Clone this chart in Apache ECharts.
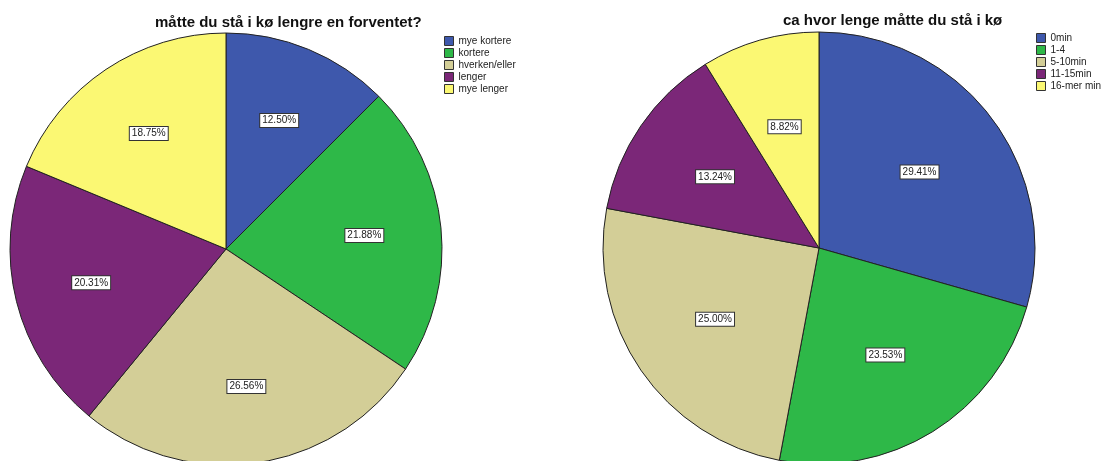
<!DOCTYPE html>
<html>
<head>
<meta charset="utf-8">
<script src="https://cdn.jsdelivr.net/npm/echarts@6/dist/echarts.min.js"></script>
<style>
  html, body { margin: 0; padding: 0; background: #fff; }
  #chart { width: 1107px; height: 461px; }
</style>
</head>
<body>
<div id="chart"></div>
<script>
// venstre diagram: måtte du stå i kø lengre en forventet?
const leftTitle = 'måtte du stå i kø lengre en forventet?'
const leftNames = ['mye kortere', 'kortere', 'hverken/eller', 'lenger', 'mye lenger']
const leftValues = [12.50, 21.88, 26.56, 20.31, 18.75]

// høyre diagram: ca hvor lenge måtte du stå i kø
const rightTitle = 'ca hvor lenge måtte du stå i kø'
const rightNames = ['0min', '1-4', '5-10min', '11-15min', '16-mer min']
const rightValues = [29.41, 23.53, 25.00, 13.24, 8.82]

const colors = ['#3e58ac', '#2eb848', '#d3ce97', '#7b2778', '#fbf873']
const font = 'Liberation Sans, Arial, sans-serif'

const chart = echarts.init(document.getElementById('chart'), null, { renderer: 'canvas' })

function toData(names, values) {
  return names.map((n, i) => ({ name: n, value: values[i], itemStyle: { color: colors[i] } }))
}

// selve kaka, uten etiketter
function pieSeries(names, values, center) {
  return {
    type: 'pie',
    center: center,
    radius: [0, 216],
    startAngle: 90,
    clockwise: true,
    silent: true,
    animation: false,
    label: { show: false },
    labelLine: { show: false },
    itemStyle: { borderColor: '#222', borderWidth: 1 },
    data: toData(names, values)
  }
}

// gjennomsiktig ring bare for å plassere prosent-boksene lenger ut
function labelSeries(names, values, center, inner) {
  return {
    type: 'pie',
    center: center,
    radius: [inner, 216],
    startAngle: 90,
    clockwise: true,
    silent: true,
    animation: false,
    legendHoverLink: false,
    itemStyle: { color: 'rgba(0,0,0,0)', borderWidth: 0 },
    label: {
      show: true,
      position: 'inside',
      formatter: p => p.value.toFixed(2) + '%',
      fontFamily: font,
      fontSize: 10,
      color: '#222',
      backgroundColor: '#fff',
      borderColor: '#333',
      borderWidth: 1,
      padding: [2, 2, 1, 2]
    },
    labelLine: { show: false },
    data: names.map((n, i) => ({ name: n, value: values[i] }))
  }
}

function legend(names, left, top) {
  return {
    orient: 'vertical',
    left: left,
    top: top,
    padding: 0,
    itemWidth: 9,
    itemHeight: 9,
    itemGap: 2,
    icon: 'rect',
    selectedMode: false,
    data: names,
    itemStyle: { borderColor: '#333', borderWidth: 1 },
    textStyle: { fontFamily: font, fontSize: 10, color: '#222' }
  }
}

const option = {
  backgroundColor: '#fff',
  animation: false,
  title: [
    {
      text: leftTitle, left: 150, top: 10,
      textStyle: { fontFamily: font, fontSize: 15, fontWeight: 'bold', color: '#111' }
    },
    {
      text: rightTitle, left: 778, top: 8,
      textStyle: { fontFamily: font, fontSize: 15, fontWeight: 'bold', color: '#111' }
    }
  ],
  legend: [legend(leftNames, 444, 36), legend(rightNames, 1036, 33)],
  series: [
    pieSeries(leftNames, leftValues, [226, 249]),
    labelSeries(leftNames, leftValues, [226, 249], 56),
    pieSeries(rightNames, rightValues, [819, 248]),
    labelSeries(rightNames, rightValues, [819, 248], 30)
  ]
}

chart.setOption(option)
</script>
</body>
</html>
